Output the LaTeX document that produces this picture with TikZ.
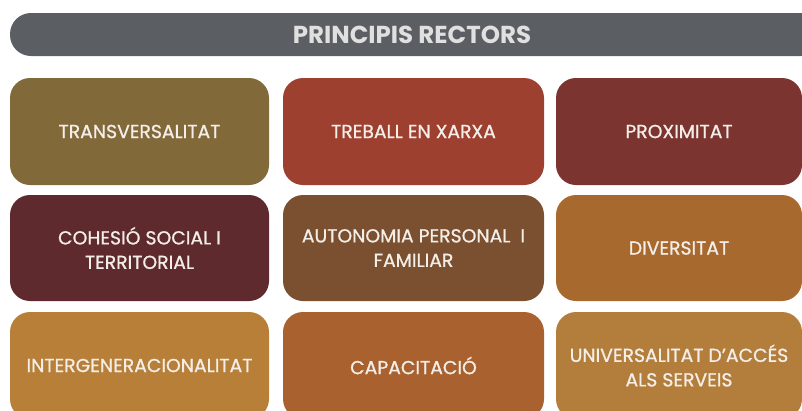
\documentclass[tikz,border=0pt]{standalone}
\usepackage{fontspec}
\setmainfont{Poppins}
\newfontfamily\boxfont{Poppins}[FakeBold=0.9]
\usepackage{tikz}
\usetikzlibrary{positioning}
\definecolor{barGray}{HTML}{5B5E62}
\definecolor{cTransv}{HTML}{82693A}
\definecolor{cXarxa}{HTML}{9E4030}
\definecolor{cProxim}{HTML}{7B3430}
\definecolor{cCohesio}{HTML}{5E2A2E}
\definecolor{cAutonom}{HTML}{7A5030}
\definecolor{cDivers}{HTML}{A8692F}
\definecolor{cInterg}{HTML}{B87F38}
\definecolor{cCapac}{HTML}{A9622F}
\definecolor{cUnivers}{HTML}{B37E3B}
\definecolor{txtWhite}{HTML}{F4EEE8}
\tikzset{principi/.style={rectangle,rounded corners=20pt,minimum width=259pt,minimum height=107pt,
  text=txtWhite,align=center,font=\boxfont\fontsize{18.8}{24.5}\selectfont,inner sep=0pt}}
\tikzset{titlebar/.style={rectangle,rounded corners=21pt,fill=barGray,minimum width=812pt,minimum height=43pt,
  inner sep=0pt}}

\begin{document}
\begin{tikzpicture}[x=1pt,y=-1pt]
\clip (0,0) rectangle (802,410);
% \draw[help lines] (0,0) grid (802,410);
\node (rectors) [titlebar] at (416,34.5) {};
\node (rectorsTxt) [text=white!88!black,font=\bfseries\fontsize{24.5}{26}\selectfont] at (412,35) {PRINCIPIS RECTORS};
%
\node (transv) [principi,fill=cTransv] at (139.5,131.5) {TRANSVERSALITAT};
\node (xarxa) [principi,fill=cXarxa,minimum width=261pt] at (413.5,131.5) {TREBALL EN XARXA};
\node (proxim) [principi,fill=cProxim,minimum width=246pt] at (679,131.5) {PROXIMITAT};
%
\node (cohesio) [principi,fill=cCohesio,minimum height=106pt] at (139.5,248) {COHESIÓ SOCIAL I\\TERRITORIAL};
\node (autonom) [principi,fill=cAutonom,minimum width=261pt,minimum height=106pt] at (413.5,248) {AUTONOMIA PERSONAL \ I\\FAMILIAR};
\node (divers) [principi,fill=cDivers,minimum width=246pt,minimum height=106pt] at (679,248) {DIVERSITAT};
%
\node (interg) [principi,fill=cInterg] at (139.5,365.5) {INTERGENERACIONALITAT};
\node (capac) [principi,fill=cCapac,minimum width=261pt] at (413.5,365.5) {CAPACITACIÓ};
\node (univers) [principi,fill=cUnivers,minimum width=246pt] at (679,365.5) {UNIVERSALITAT D’ACCÉS\\ALS SERVEIS};
\end{tikzpicture}
\end{document}
